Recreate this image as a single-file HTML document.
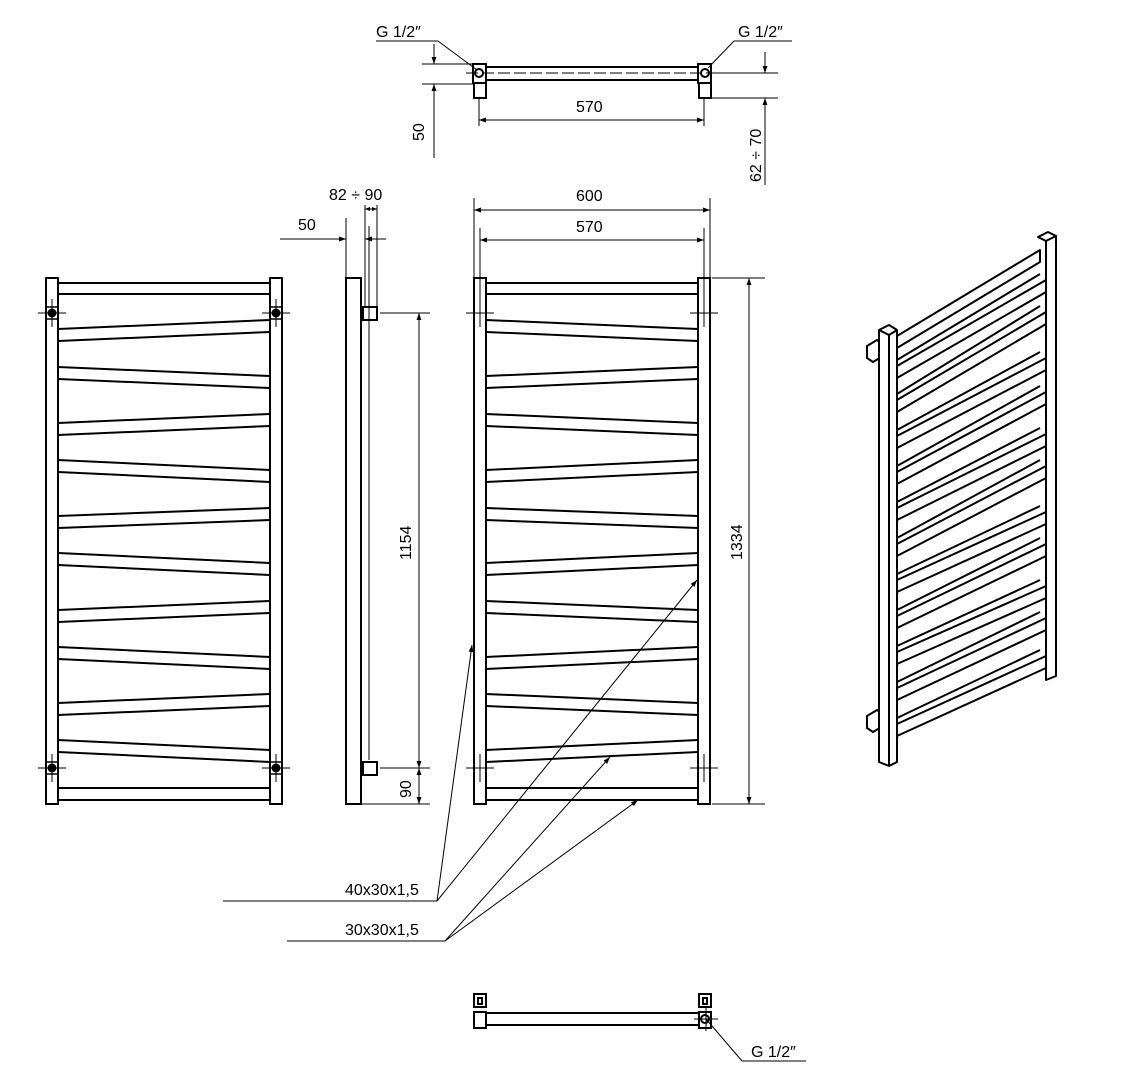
<!DOCTYPE html>
<html><head><meta charset="utf-8"><style>
html,body{margin:0;padding:0;background:#fff;}
svg{display:block;}
text{font-family:"Liberation Sans",sans-serif;font-size:16px;fill:#000;}
</style></head><body>
<svg width="1124" height="1076" viewBox="0 0 1124 1076" xmlns="http://www.w3.org/2000/svg">
<defs>
<marker id="a" viewBox="0 0 10 10" refX="10" refY="5" markerWidth="10" markerHeight="7" orient="auto-start-reverse" markerUnits="userSpaceOnUse"><path d="M0,1.5 L10,5 L0,8.5 z" fill="#000"/></marker>
<marker id="s" viewBox="0 0 10 10" refX="10" refY="5" markerWidth="6" markerHeight="5" orient="auto-start-reverse" markerUnits="userSpaceOnUse"><path d="M0,1 L10,5 L0,9 z" fill="#000"/></marker>
<g id="front" fill="none" stroke="#000" stroke-width="2">
<rect x="46" y="278" width="12" height="526"/>
<rect x="270" y="278" width="12" height="526"/>
<line x1="58" y1="283" x2="270" y2="283"/><line x1="58" y1="294" x2="270" y2="294"/>
<line x1="58" y1="329" x2="270" y2="320"/><line x1="58" y1="341" x2="270" y2="332"/>
<line x1="58" y1="367" x2="270" y2="376"/><line x1="58" y1="379" x2="270" y2="388"/>
<line x1="58" y1="423" x2="270" y2="414"/><line x1="58" y1="435" x2="270" y2="426"/>
<line x1="58" y1="460" x2="270" y2="470"/><line x1="58" y1="472" x2="270" y2="482"/>
<line x1="58" y1="516" x2="270" y2="508"/><line x1="58" y1="528" x2="270" y2="520"/>
<line x1="58" y1="553" x2="270" y2="563"/><line x1="58" y1="565" x2="270" y2="575"/>
<line x1="58" y1="610" x2="270" y2="601"/><line x1="58" y1="622" x2="270" y2="613"/>
<line x1="58" y1="647" x2="270" y2="657"/><line x1="58" y1="659" x2="270" y2="669"/>
<line x1="58" y1="703" x2="270" y2="694"/><line x1="58" y1="715" x2="270" y2="706"/>
<line x1="58" y1="740" x2="270" y2="750"/><line x1="58" y1="752" x2="270" y2="762"/>
<line x1="58" y1="788" x2="270" y2="788"/><line x1="58" y1="800" x2="270" y2="800"/>
</g>
<g id="ch" stroke="#000" stroke-width="1"><line x1="-14" y1="0" x2="14" y2="0"/><line x1="0" y1="-14" x2="0" y2="14"/></g>
<g id="fit"><use href="#ch"/><rect x="-6" y="-6" width="12" height="12" fill="none" stroke="#000" stroke-width="1.5"/><circle r="4.5" fill="#000"/></g>
</defs>

<use href="#front"/>
<use href="#fit" x="52" y="313"/><use href="#fit" x="276" y="313"/>
<use href="#fit" x="52" y="768"/><use href="#fit" x="276" y="768"/>

<use href="#front" transform="translate(756,0) scale(-1,1)"/>
<use href="#ch" x="480" y="313"/><use href="#ch" x="704" y="313"/>
<use href="#ch" x="480" y="768"/><use href="#ch" x="704" y="768"/>

<g fill="none" stroke="#000" stroke-width="1">
<line x1="474" y1="198" x2="474" y2="277"/><line x1="710" y1="198" x2="710" y2="277"/>
<line x1="480" y1="228" x2="480" y2="300"/><line x1="704" y1="228" x2="704" y2="300"/>
<line x1="474" y1="210" x2="710" y2="210" marker-start="url(#a)" marker-end="url(#a)"/>
<line x1="480" y1="240" x2="704" y2="240" marker-start="url(#a)" marker-end="url(#a)"/>
<line x1="712" y1="278" x2="765" y2="278"/><line x1="712" y1="804" x2="765" y2="804"/>
<line x1="749" y1="278" x2="749" y2="804" marker-start="url(#a)" marker-end="url(#a)"/>

<line x1="346" y1="218" x2="346" y2="277"/><line x1="365" y1="205" x2="365" y2="306"/>
<line x1="377" y1="205" x2="377" y2="306"/><line x1="369" y1="226" x2="369" y2="760"/>
<line x1="365" y1="209" x2="377" y2="209" marker-start="url(#s)" marker-end="url(#s)"/>
<line x1="280" y1="239" x2="346" y2="239" marker-end="url(#a)"/>
<line x1="386" y1="239" x2="365" y2="239" marker-end="url(#a)"/>
<line x1="380" y1="313" x2="430" y2="313"/><line x1="380" y1="768" x2="430" y2="768"/>
<line x1="362" y1="804" x2="430" y2="804"/>
<line x1="419" y1="313" x2="419" y2="768" marker-start="url(#a)" marker-end="url(#a)"/>
<line x1="419" y1="768" x2="419" y2="804" marker-start="url(#a)" marker-end="url(#a)"/>

<line x1="223" y1="901" x2="437" y2="901"/>
<line x1="437" y1="901" x2="472" y2="645" marker-end="url(#a)"/>
<line x1="437" y1="901" x2="697" y2="580" marker-end="url(#a)"/>
<line x1="287" y1="941" x2="445" y2="941"/>
<line x1="445" y1="941" x2="610" y2="757" marker-end="url(#a)"/>
<line x1="445" y1="941" x2="638" y2="800" marker-end="url(#a)"/>

<line x1="376" y1="41" x2="438" y2="41"/><line x1="438" y1="41" x2="477" y2="70"/>
<line x1="734" y1="41" x2="792" y2="41"/><line x1="734" y1="41" x2="708" y2="68"/>
<line x1="422" y1="64" x2="473" y2="64"/><line x1="422" y1="84" x2="473" y2="84"/>
<line x1="434" y1="44" x2="434" y2="64" marker-end="url(#a)"/>
<line x1="434" y1="158" x2="434" y2="84" marker-end="url(#a)"/>
<line x1="712" y1="73" x2="778" y2="73"/><line x1="712" y1="98" x2="778" y2="98"/>
<line x1="765" y1="52" x2="765" y2="73" marker-end="url(#a)"/>
<line x1="765" y1="185" x2="765" y2="98" marker-end="url(#a)"/>
<line x1="479" y1="98" x2="479" y2="126"/><line x1="704" y1="98" x2="704" y2="126"/>
<line x1="479" y1="120" x2="704" y2="120" marker-start="url(#a)" marker-end="url(#a)"/>
<line x1="466" y1="73" x2="716" y2="73" stroke-dasharray="12,4"/>

<line x1="706" y1="1019" x2="742" y2="1061"/><line x1="742" y1="1061" x2="806" y2="1061"/>
<line x1="694" y1="1019" x2="718" y2="1019"/><line x1="706" y1="1007" x2="706" y2="1031"/>
</g>

<g fill="none" stroke="#000" stroke-width="2">
<rect x="346" y="278" width="15" height="526"/>
<rect x="363" y="307" width="14" height="13"/><rect x="363" y="762" width="14" height="13"/>
<line x1="487" y1="67" x2="698" y2="67"/><line x1="487" y1="80" x2="698" y2="80"/>
<rect x="473" y="64" width="13" height="19"/><rect x="474" y="83" width="12" height="15"/>
<rect x="698" y="64" width="13" height="19"/><rect x="699" y="83" width="12" height="15"/>
<circle cx="479" cy="73" r="4"/><circle cx="705" cy="73" r="4"/>
<line x1="486" y1="1013" x2="698" y2="1013"/><line x1="486" y1="1025" x2="698" y2="1025"/>
<rect x="474" y="994" width="12" height="13"/><rect x="474" y="1012" width="12" height="16"/>
<rect x="699" y="994" width="12" height="13"/><rect x="699" y="1012" width="12" height="16"/>
<rect x="478" y="998" width="4" height="6"/><rect x="703" y="998" width="4" height="6"/>
<circle cx="705" cy="1019" r="4"/>
</g>

<g fill="#fff" stroke="#000" stroke-width="2" stroke-linejoin="round">
<polygon points="1046,240 1056,236 1056,676 1046,680"/>
<polygon points="1038,237 1048,232 1056,236 1046,241"/>
<g>
<polygon points="897,336 1040,250 1040,262 897,348"/>
<polygon points="897,366 1046,280 1046,292 897,378"/><line x1="897" y1="360" x2="1040" y2="274"/>
<polygon points="897,400 1046,312 1046,324 897,412"/><line x1="897" y1="394" x2="1040" y2="306"/>
<polygon points="897,436 1046,358 1046,370 897,448"/><line x1="897" y1="430" x2="1040" y2="352"/>
<polygon points="897,472 1046,392 1046,404 897,484"/><line x1="897" y1="466" x2="1040" y2="386"/>
<polygon points="897,508 1046,434 1046,446 897,520"/><line x1="897" y1="502" x2="1040" y2="428"/>
<polygon points="897,544 1046,466 1046,478 897,556"/><line x1="897" y1="538" x2="1040" y2="460"/>
<polygon points="897,580 1046,512 1046,524 897,592"/><line x1="897" y1="574" x2="1040" y2="506"/>
<polygon points="897,616 1046,544 1046,556 897,628"/><line x1="897" y1="610" x2="1040" y2="538"/>
<polygon points="897,652 1046,586 1046,598 897,664"/><line x1="897" y1="646" x2="1040" y2="580"/>
<polygon points="897,688 1046,618 1046,630 897,700"/><line x1="897" y1="682" x2="1040" y2="612"/>
<polygon points="897,724 1046,656 1046,668 897,736"/><line x1="897" y1="718" x2="1040" y2="650"/>
</g>
<polygon points="867,346 877,340 883,344 883,356 873,362 867,358"/>
<polygon points="867,716 877,710 883,714 883,726 873,732 867,728"/>
<polygon points="879,330 889,325 897,330 897,762 889,766 879,762"/>
<line x1="889" y1="335" x2="889" y2="766"/><line x1="879" y1="330" x2="889" y2="335"/><line x1="889" y1="335" x2="897" y2="330"/>
</g>

<text x="376" y="37">G 1/2″</text>
<text x="738" y="37">G 1/2″</text>
<text x="576" y="112">570</text>
<text transform="translate(424,141) rotate(-90)">50</text>
<text transform="translate(761,182) rotate(-90)">62 ÷ 70</text>
<text x="329" y="200">82 ÷ 90</text>
<text x="298" y="230">50</text>
<text x="576" y="201">600</text>
<text x="576" y="232">570</text>
<text transform="translate(411,560) rotate(-90)">1154</text>
<text transform="translate(411,798) rotate(-90)">90</text>
<text transform="translate(742,560) rotate(-90)">1334</text>
<text x="345" y="895">40x30x1,5</text>
<text x="345" y="935">30x30x1,5</text>
<text x="751" y="1057">G 1/2″</text>
</svg>
</body></html>
